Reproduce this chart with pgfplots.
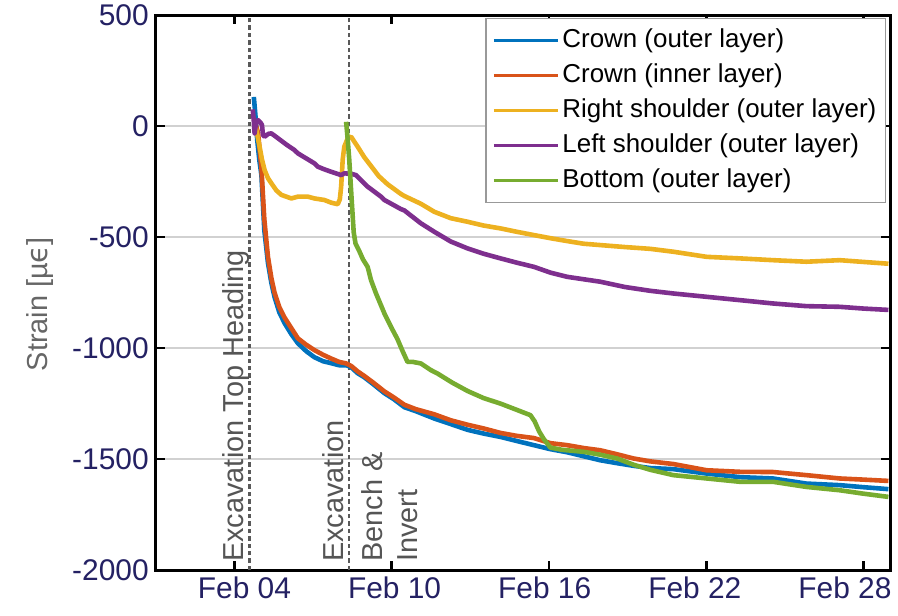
\documentclass[border=0pt]{standalone}
\usepackage{fontspec}
\setmainfont{Liberation Sans}
\newfontfamily\dejavu{DejaVu Sans}
\usepackage{pgfplots}
\pgfplotsset{compat=1.18}

\definecolor{mblue}{rgb}{0,0.447,0.741}
\definecolor{morange}{rgb}{0.85,0.325,0.098}
\definecolor{myellow}{rgb}{0.929,0.694,0.125}
\definecolor{mpurple}{rgb}{0.494,0.184,0.556}
\definecolor{mgreen}{rgb}{0.466,0.674,0.188}
\definecolor{ticknavy}{RGB}{36,33,99}
\definecolor{annogray}{RGB}{85,85,85}

% strain histories, x = day of February
\pgfplotstableread{
x y
4.74 131
4.80 50
4.87 -63
4.95 -153
5.03 -221
5.14 -469
5.28 -617
5.41 -707
5.53 -770
5.71 -838
5.91 -887
6.17 -937
6.42 -978
6.74 -1014
7.05 -1041
7.38 -1059
7.69 -1068
7.99 -1077
8.26 -1077
8.45 -1086
8.70 -1113
8.95 -1131
9.29 -1162
9.72 -1203
10.08 -1230
10.48 -1266
10.92 -1284
11.62 -1317
12.25 -1342
12.89 -1368
13.51 -1385
14.15 -1400
14.76 -1418
15.42 -1437
16.05 -1455
16.69 -1469
17.32 -1487
17.95 -1505
18.59 -1518
19.22 -1530
19.86 -1540
20.74 -1545
22.01 -1565
23.28 -1581
24.54 -1587
25.81 -1610
27.08 -1617
27.96 -1626
28.94 -1635
}\crownouter

\pgfplotstableread{
x y
4.78 20
4.84 -5
4.90 -30
4.95 -90
5.03 -190
5.14 -420
5.28 -590
5.41 -685
5.53 -750
5.71 -815
5.91 -862
6.17 -910
6.42 -956
6.74 -985
7.05 -1009
7.38 -1030
7.69 -1047
7.99 -1062
8.26 -1069
8.45 -1080
8.70 -1105
8.95 -1125
9.29 -1155
9.72 -1195
10.08 -1222
10.48 -1255
10.92 -1275
11.62 -1298
12.25 -1325
12.89 -1345
13.51 -1362
14.15 -1382
14.76 -1395
15.42 -1405
16.05 -1428
16.69 -1437
17.32 -1450
17.95 -1460
18.59 -1478
19.22 -1497
19.86 -1510
20.74 -1522
22.01 -1550
23.28 -1557
24.54 -1558
25.81 -1572
27.08 -1587
27.96 -1592
28.94 -1598
}\crowninner

\pgfplotstableread{
x y
4.76 20
4.84 -20
4.96 -93
5.05 -150
5.15 -198
5.28 -235
5.41 -258
5.60 -290
5.79 -310
6.17 -326
6.42 -318
6.80 -318
7.05 -326
7.43 -333
7.69 -345
7.94 -352
8.02 -330
8.07 -273
8.13 -150
8.19 -93
8.32 -55
8.45 -48
8.57 -70
8.70 -93
8.95 -140
9.21 -180
9.50 -225
9.84 -262
10.35 -306
10.48 -315
11.11 -350
11.62 -386
12.25 -415
12.89 -431
13.50 -448
14.15 -461
14.76 -476
15.42 -491
16.05 -505
16.69 -518
17.32 -530
17.95 -536
18.90 -545
19.86 -553
20.74 -566
22.01 -589
23.28 -596
24.54 -604
25.81 -611
27.08 -604
28.00 -612
28.94 -620
}\rightshoulder

\pgfplotstableread{
x y
4.70 75
4.74 20
4.77 -33
4.82 10
4.90 27
5.00 15
5.05 5
5.09 -41
5.15 -48
5.30 -35
5.41 -33
5.66 -55
6.00 -85
6.29 -108
6.42 -123
6.80 -150
7.05 -168
7.18 -183
7.43 -195
7.69 -206
8.07 -221
8.19 -213
8.45 -215
8.64 -221
8.95 -258
9.08 -273
9.59 -318
9.72 -333
10.35 -374
10.48 -380
11.11 -438
11.62 -476
12.25 -520
12.89 -551
13.50 -575
14.15 -596
14.76 -615
15.42 -634
16.05 -660
16.69 -679
17.32 -690
17.95 -701
18.90 -725
19.86 -742
20.74 -754
22.01 -769
23.28 -784
24.54 -799
25.81 -811
27.08 -814
28.00 -822
28.94 -828
}\leftshoulder

\pgfplotstableread{
x y
8.26 19
8.32 -60
8.38 -153
8.47 -330
8.55 -480
8.62 -530
8.75 -560
8.90 -600
9.08 -634
9.21 -694
9.40 -754
9.72 -844
9.97 -904
10.22 -960
10.40 -1010
10.60 -1062
10.80 -1062
11.11 -1069
11.49 -1099
11.74 -1114
12.30 -1155
12.89 -1193
13.50 -1225
14.15 -1250
14.70 -1275
15.29 -1302
15.45 -1330
15.62 -1375
15.80 -1410
16.05 -1448
16.50 -1458
17.32 -1467
17.95 -1480
18.59 -1497
19.22 -1525
19.86 -1548
20.74 -1572
22.01 -1587
23.28 -1602
24.54 -1602
25.81 -1625
27.08 -1640
27.96 -1655
28.94 -1670
}\bottomouter

\begin{document}
\begin{tikzpicture}
\useasboundingbox (-77.85bp,-22.5bp) rectangle (371bp,285bp);
\begin{axis}[
  at={(0,0)}, anchor=south west,
  scale only axis, width=367bp, height=277.5bp,
  xmin=1, xmax=29, ymin=-2000, ymax=500,
  xtick={4,10,16,22,28},
  xticklabels={Feb 04,Feb 10,Feb 16,Feb 22,Feb 28},
  ytick={-2000,-1500,-1000,-500,0,500},
  yticklabels={-2000,-1500,-1000,-500,0,500},
  tick pos=both, tick align=inside, major tick length=4.5bp,
  tick style={black, line width=1.3bp},
  axis line style={line width=1.5bp, black},
  ymajorgrids, major grid style={line width=1bp, black!18},
  ticklabel style={font=\fontsize{15}{18}\selectfont, text=ticknavy},
  xticklabel style={xshift={5bp-3.6bp*\ticknum}},
  ylabel={Strain [µ{\dejavu ϵ}]},
  ylabel style={at={(axis description cs:-0.158,0.479)}, anchor=center,
    font=\fontsize{14.5}{16}\selectfont, text=black!60},
  legend style={at={(rel axis cs:0.449,0.995)}, anchor=north west,
    draw=black!40, line width=0.8bp, fill=white,
    font=\fontsize{13}{15}\selectfont, inner sep=3bp, row sep=1.5bp,
    nodes={inner sep=1.5bp, text height=10bp, text depth=3bp}},
  legend cell align=left,
  legend image code/.code={\draw[#1, line width=1.6bp] (0bp,0bp) -- (32bp,0bp);},
  every axis plot/.append style={line width=2.3bp, line join=round},
]
% event markers
\addplot[forget plot, line width=1.2bp, color=black!65, dash pattern=on 2.2bp off 1.5bp]
  coordinates {(4.57,-2000) (4.57,500)};
\addplot[forget plot, line width=1.2bp, color=black!65, dash pattern=on 2.2bp off 1.5bp]
  coordinates {(8.36,-2000) (8.36,500)};

\addplot[mblue] table[x=x,y=y] {\crownouter};
\addlegendentry{Crown (outer layer)}
\addplot[morange] table[x=x,y=y] {\crowninner};
\addlegendentry{Crown (inner layer)}
\addplot[myellow] table[x=x,y=y] {\rightshoulder};
\addlegendentry{Right shoulder (outer layer)}
\addplot[mpurple] table[x=x,y=y] {\leftshoulder};
\addlegendentry{Left shoulder (outer layer)}
\addplot[mgreen] table[x=x,y=y] {\bottomouter};
\addlegendentry{Bottom (outer layer)}

\begin{scope}[every node/.style={rotate=90, anchor=base west,
    font=\fontsize{14.5}{17}\selectfont, text=annogray, inner sep=0pt}]
\node at (axis cs:4.342,-1964) {Excavation Top Heading};
\node at (axis cs:8.144,-1964) {Excavation};
\node at (axis cs:9.665,-1964) {Bench \&};
\node at (axis cs:11.0,-1964) {Invert};
\end{scope}
\end{axis}
\end{tikzpicture}
\end{document}
